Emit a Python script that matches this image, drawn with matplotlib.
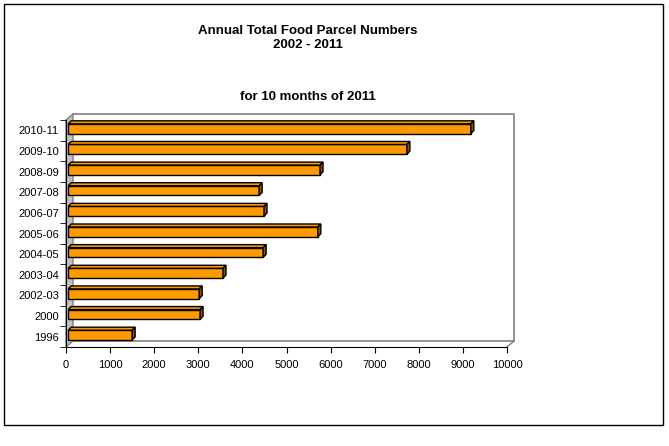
import matplotlib
matplotlib.use("Agg")
import matplotlib.pyplot as plt
from matplotlib.patches import Polygon, Rectangle

plt.rcParams["font.family"] = ["Liberation Sans", "DejaVu Sans"]

categories = ["1996", "2000", "2002-03", "2003-04", "2004-05", "2005-06",
              "2006-07", "2007-08", "2008-09", "2009-10", "2010-11"]
parcels = [1500, 3040, 3020, 3560, 4470, 5710, 4490, 4380, 5760, 7730, 9180]

title_lines = "Annual Total Food Parcel Numbers\n2002 - 2011"
subtitle = "for 10 months of 2011"

W, H = 669, 446
fig = plt.figure(figsize=(W / 100, H / 100), dpi=100)

# axes placed in pixels: x 66..507, y 120..347 (from top)
ax_l, ax_r, ax_t, ax_b = 66, 507, 120, 347
aw, ah = ax_r - ax_l, ax_b - ax_t
ax = fig.add_axes([ax_l / W, (H - ax_b) / H, aw / W, ah / H])

xmax = 10000
n = len(categories)
ax.set_xlim(0, xmax)
ax.set_ylim(-0.5, n - 0.5)

# back wall + side wall (axes fraction), behind the bars
wx, wy = 7 / aw, 6 / ah
ax.add_patch(Polygon([(0, 0), (0, 1), (wx, 1 + wy), (wx, wy)], closed=True,
                     transform=ax.transAxes, facecolor="#C0C0C0",
                     edgecolor="#808080", linewidth=1, zorder=1, clip_on=False))
ax.plot([wx, 1 + wx, 1 + wx, wx], [1 + wy, 1 + wy, wy, wy], transform=ax.transAxes,
        color="#808080", linewidth=1.2, zorder=1, clip_on=False)
ax.plot([1, 1 + wx], [0, wy], transform=ax.transAxes, color="#808080",
        linewidth=1, zorder=1, clip_on=False)

# pixel -> data scale for the fake 3d depth of the bars
px_x = xmax / aw
px_y = n / ah
dep_x, dep_y = 3 * px_x, 3 * px_y

orange = "#FF9900"
side = "#8C5200"
bar_h = 0.47
for i, v in enumerate(parcels):
    y0 = i - bar_h / 2 + 0.08
    y1 = y0 + bar_h
    x0 = 50
    ax.add_patch(Rectangle((x0, y0), v - x0, bar_h, facecolor=orange,
                           edgecolor="black", linewidth=1, zorder=3))
    ax.add_patch(Polygon([(x0, y1), (v, y1), (v + dep_x, y1 + dep_y), (x0 + dep_x, y1 + dep_y)],
                         closed=True, facecolor=orange, edgecolor="black",
                         linewidth=1, zorder=3))
    ax.add_patch(Polygon([(v, y0), (v + dep_x, y0 + dep_y), (v + dep_x, y1 + dep_y), (v, y1)],
                         closed=True, facecolor=side, edgecolor="black",
                         linewidth=1, zorder=3))

for s in ["top", "right"]:
    ax.spines[s].set_visible(False)
ax.spines["left"].set_color("black")
ax.spines["bottom"].set_color("black")
ax.spines["left"].set_zorder(4)
ax.spines["bottom"].set_zorder(4)

ax.set_xticks(range(0, xmax + 1, 1000))
ax.set_xticklabels([str(t) for t in range(0, xmax + 1, 1000)], fontsize=8)
ax.set_yticks(range(n))
ax.set_yticklabels(categories, fontsize=8)
ax.set_yticks([i - 0.5 for i in range(n + 1)], minor=True)
ax.tick_params(axis="y", which="major", length=0, pad=5)
ax.tick_params(axis="y", which="minor", length=4, direction="out")
ax.tick_params(axis="x", length=4, direction="out", pad=5)

fig.text(308 / W, 1 - 38 / H, title_lines, ha="center", va="center",
         fontsize=9.5, fontweight="bold", linespacing=1.25)
fig.text(308 / W, 1 - 97 / H, subtitle, ha="center", va="center",
         fontsize=9.5, fontweight="bold")

fig.add_artist(Rectangle((4 / W, 1 - 425 / H), 659 / W, 421 / H,
                         transform=fig.transFigure, fill=False,
                         edgecolor="black", linewidth=1))

fig.savefig("out.png", dpi=100)
